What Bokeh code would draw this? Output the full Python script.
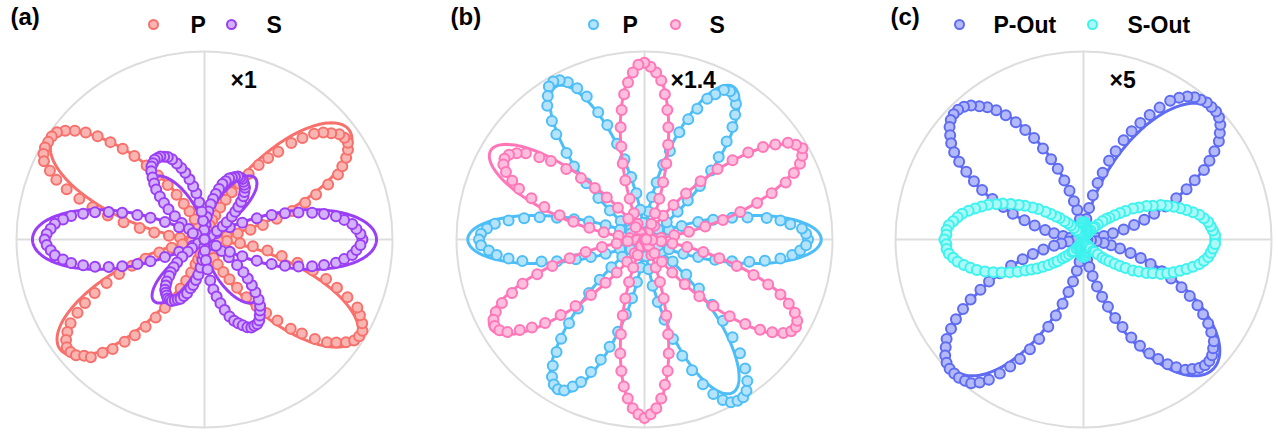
import numpy as np
from bokeh.plotting import figure
from bokeh.models import Range1d
from bokeh.core.properties import value
from bokeh.embed import file_html
from bokeh.resources import INLINE

# Polarization angle of every measured point, degrees
angles = list(range(0, 360, 2))

# Normalized SHG intensity (1 = outer ring) at each angle
a_p = [0.00, 0.01, 0.03, 0.07, 0.12, 0.18, 0.25, 0.32, 0.40, 0.49, 0.57, 0.64, 0.72, 0.79, 0.83,
       0.87, 0.90, 0.92, 0.92, 0.91, 0.88, 0.85, 0.81, 0.75, 0.69, 0.61, 0.55, 0.49, 0.42, 0.35,
       0.29, 0.24, 0.19, 0.14, 0.11, 0.08, 0.05, 0.03, 0.02, 0.01, 0.01, 0.00, 0.00, 0.00, 0.00,
       0.00, 0.00, 0.00, 0.00, 0.00, 0.00, 0.00, 0.01, 0.01, 0.02, 0.04, 0.06, 0.08, 0.12, 0.17,
       0.22, 0.28, 0.35, 0.42, 0.50, 0.58, 0.65, 0.72, 0.79, 0.85, 0.90, 0.94, 0.97, 0.98, 0.98,
       0.98, 0.97, 0.95, 0.90, 0.85, 0.78, 0.70, 0.62, 0.53, 0.44, 0.35, 0.27, 0.19, 0.13, 0.07,
       0.03, 0.01, 0.00, 0.01, 0.03, 0.07, 0.12, 0.18, 0.25, 0.33, 0.41, 0.49, 0.57, 0.65, 0.72,
       0.78, 0.84, 0.88, 0.91, 0.93, 0.93, 0.92, 0.89, 0.87, 0.81, 0.76, 0.69, 0.63, 0.56, 0.49,
       0.42, 0.36, 0.29, 0.24, 0.19, 0.14, 0.11, 0.08, 0.05, 0.03, 0.02, 0.01, 0.01, 0.00, 0.00,
       0.00, 0.00, 0.00, 0.00, 0.00, 0.00, 0.00, 0.01, 0.01, 0.02, 0.04, 0.06, 0.08, 0.11, 0.15,
       0.20, 0.25, 0.31, 0.38, 0.45, 0.51, 0.58, 0.66, 0.72, 0.79, 0.85, 0.89, 0.93, 0.96, 0.97,
       0.97, 0.95, 0.92, 0.89, 0.82, 0.75, 0.68, 0.60, 0.51, 0.42, 0.34, 0.26, 0.19, 0.12, 0.07]
a_s = [0.84, 0.83, 0.81, 0.79, 0.75, 0.71, 0.65, 0.59, 0.52, 0.45, 0.38, 0.30, 0.22, 0.15, 0.07,
       0.00,
       0.04, 0.08, 0.12, 0.15, 0.19, 0.22, 0.25, 0.28, 0.31, 0.33, 0.35, 0.36, 0.37, 0.38, 0.38,
       0.38, 0.37, 0.36, 0.35, 0.33, 0.31, 0.28, 0.25, 0.22, 0.19, 0.15, 0.12, 0.08, 0.04,
       0.00,
       0.05, 0.10, 0.15, 0.20, 0.25, 0.29, 0.33, 0.37, 0.40, 0.43, 0.46, 0.48, 0.49, 0.50, 0.50,
       0.50, 0.49, 0.48, 0.46, 0.43, 0.40, 0.37, 0.33, 0.29, 0.25, 0.20, 0.15, 0.10, 0.05,
       0.00,
       0.07, 0.15, 0.23, 0.31, 0.38, 0.46, 0.53, 0.60, 0.66, 0.72, 0.76, 0.80, 0.82, 0.84, 0.85,
       0.84, 0.82, 0.80, 0.76, 0.72, 0.66, 0.60, 0.53, 0.46, 0.38, 0.31, 0.23, 0.15, 0.07,
       0.00,
       0.04, 0.08, 0.11, 0.15, 0.19, 0.22, 0.25, 0.27, 0.30, 0.32, 0.34, 0.35, 0.36, 0.37, 0.37,
       0.37, 0.36, 0.35, 0.34, 0.32, 0.30, 0.27, 0.25, 0.22, 0.19, 0.15, 0.11, 0.08, 0.04,
       0.00,
       0.06, 0.11, 0.16, 0.22, 0.27, 0.31, 0.35, 0.39, 0.43, 0.46, 0.48, 0.50, 0.52, 0.53, 0.53,
       0.53, 0.52, 0.50, 0.48, 0.46, 0.43, 0.39, 0.35, 0.31, 0.27, 0.22, 0.16, 0.11, 0.06,
       0.00,
       0.07, 0.15, 0.22, 0.30, 0.38, 0.45, 0.52, 0.59, 0.65, 0.71, 0.75, 0.79, 0.81, 0.83]
b_p = [0.87, 0.86, 0.84, 0.78, 0.73, 0.66, 0.56, 0.48, 0.38, 0.30, 0.21, 0.14, 0.08, 0.04, 0.01,
       0.00,
       0.01, 0.04, 0.09, 0.15, 0.23, 0.31, 0.41, 0.51, 0.59, 0.68, 0.76, 0.82, 0.87, 0.90, 0.91,
       0.90, 0.86, 0.82, 0.75, 0.68, 0.60, 0.49, 0.41, 0.31, 0.23, 0.15, 0.09, 0.04, 0.01,
       0.00,
       0.01, 0.04, 0.09, 0.16, 0.25, 0.34, 0.44, 0.53, 0.64, 0.72, 0.82, 0.88, 0.93, 0.96, 0.97,
       0.96, 0.92, 0.88, 0.80, 0.73, 0.62, 0.54, 0.43, 0.33, 0.24, 0.16, 0.09, 0.04, 0.01,
       0.00,
       0.01, 0.04, 0.08, 0.14, 0.22, 0.31, 0.39, 0.48, 0.57, 0.65, 0.73, 0.80, 0.84, 0.87, 0.88,
       0.87, 0.83, 0.79, 0.73, 0.66, 0.56, 0.48, 0.38, 0.30, 0.22, 0.14, 0.08, 0.04, 0.01,
       0.00,
       0.01, 0.04, 0.09, 0.15, 0.23, 0.32, 0.41, 0.51, 0.60, 0.69, 0.76, 0.83, 0.88, 0.91, 0.92,
       0.91, 0.87, 0.83, 0.76, 0.68, 0.60, 0.51, 0.41, 0.32, 0.23, 0.15, 0.09, 0.04, 0.01,
       0.00,
       0.01, 0.04, 0.09, 0.16, 0.25, 0.34, 0.44, 0.55, 0.65, 0.74, 0.83, 0.90, 0.95, 0.98, 0.99,
       0.99, 0.97, 0.93, 0.87, 0.79, 0.70, 0.60, 0.50, 0.39, 0.29, 0.19, 0.11, 0.05, 0.01,
       0.00,
       0.01, 0.04, 0.08, 0.14, 0.22, 0.30, 0.39, 0.48, 0.57, 0.65, 0.73, 0.79, 0.83, 0.86]
b_s = [0.00,
       0.01, 0.04, 0.09, 0.16, 0.24, 0.33, 0.43, 0.53, 0.63, 0.72, 0.81, 0.87, 0.92, 0.95, 0.97,
       0.95, 0.92, 0.86, 0.80, 0.72, 0.63, 0.54, 0.43, 0.33, 0.24, 0.16, 0.09, 0.04, 0.01,
       0.00,
       0.01, 0.04, 0.09, 0.15, 0.23, 0.32, 0.42, 0.52, 0.61, 0.70, 0.78, 0.85, 0.89, 0.92, 0.94,
       0.93, 0.89, 0.84, 0.78, 0.70, 0.61, 0.51, 0.42, 0.33, 0.23, 0.15, 0.09, 0.04, 0.01,
       0.00,
       0.01, 0.04, 0.08, 0.14, 0.22, 0.30, 0.38, 0.47, 0.56, 0.65, 0.71, 0.78, 0.82, 0.85, 0.86,
       0.85, 0.82, 0.77, 0.72, 0.64, 0.56, 0.47, 0.39, 0.30, 0.22, 0.14, 0.08, 0.04, 0.01,
       0.00,
       0.01, 0.04, 0.09, 0.15, 0.23, 0.32, 0.41, 0.51, 0.60, 0.69, 0.76, 0.83, 0.88, 0.91, 0.92,
       0.91, 0.88, 0.82, 0.76, 0.69, 0.60, 0.51, 0.41, 0.31, 0.23, 0.15, 0.09, 0.04, 0.01,
       0.00,
       0.01, 0.04, 0.09, 0.16, 0.24, 0.33, 0.42, 0.52, 0.62, 0.71, 0.79, 0.85, 0.90, 0.93, 0.95,
       0.93, 0.90, 0.85, 0.78, 0.71, 0.62, 0.52, 0.42, 0.33, 0.24, 0.16, 0.09, 0.04, 0.01,
       0.00,
       0.01, 0.04, 0.09, 0.15, 0.23, 0.32, 0.42, 0.51, 0.61, 0.70, 0.78, 0.84, 0.89, 0.92, 0.93,
       0.92, 0.89, 0.84, 0.78, 0.70, 0.61, 0.51, 0.41, 0.32, 0.23, 0.15, 0.09, 0.04, 0.01]
c_p = [0.00,
       0.01, 0.02, 0.04, 0.07, 0.11, 0.16, 0.22, 0.28, 0.34, 0.40, 0.47, 0.54, 0.61, 0.67, 0.74,
       0.79, 0.84, 0.89, 0.92, 0.95, 0.97, 0.98,
       0.98, 0.98, 0.97, 0.96, 0.94, 0.91, 0.87, 0.81, 0.75, 0.69, 0.63, 0.57, 0.50, 0.44, 0.37,
       0.31, 0.24, 0.17, 0.11, 0.06, 0.03, 0.01,
       0.00,
       0.01, 0.02, 0.04, 0.07, 0.11, 0.16, 0.21, 0.27, 0.33, 0.40, 0.46, 0.53, 0.60, 0.66, 0.72,
       0.78, 0.83, 0.87, 0.90, 0.93, 0.95, 0.96,
       0.96, 0.95, 0.93, 0.90, 0.87, 0.83, 0.78, 0.72, 0.66, 0.60, 0.53, 0.46, 0.40, 0.33, 0.27,
       0.21, 0.16, 0.11, 0.07, 0.04, 0.02, 0.01,
       0.00,
       0.01, 0.02, 0.04, 0.08, 0.12, 0.16, 0.22, 0.28, 0.34, 0.41, 0.48, 0.55, 0.61, 0.68, 0.74,
       0.80, 0.85, 0.90, 0.93, 0.96, 0.98, 0.99,
       0.99, 0.99, 0.98, 0.97, 0.94, 0.90, 0.84, 0.78, 0.72, 0.65, 0.58, 0.50, 0.43, 0.36, 0.29,
       0.23, 0.17, 0.12, 0.08, 0.04, 0.02, 0.01,
       0.00,
       0.01, 0.02, 0.04, 0.07, 0.11, 0.15, 0.20, 0.26, 0.32, 0.38, 0.45, 0.51, 0.58, 0.64, 0.70,
       0.75, 0.80, 0.84, 0.88, 0.90, 0.92, 0.93,
       0.93, 0.92, 0.90, 0.88, 0.84, 0.80, 0.75, 0.70, 0.64, 0.58, 0.51, 0.45, 0.38, 0.32, 0.26,
       0.20, 0.15, 0.11, 0.07, 0.04, 0.02, 0.01]
c_s = [0.70, 0.70, 0.69, 0.68, 0.67, 0.65, 0.63, 0.60, 0.57, 0.54, 0.51, 0.48, 0.45, 0.41, 0.38,
       0.34, 0.31, 0.27, 0.24, 0.21, 0.18, 0.16, 0.14, 0.11, 0.09, 0.08, 0.06, 0.05, 0.04, 0.04,
       0.03, 0.03, 0.03, 0.03, 0.03, 0.04, 0.04, 0.05, 0.06, 0.06, 0.07, 0.08, 0.08, 0.09, 0.09,
       0.09,
       0.09, 0.09, 0.08, 0.08, 0.07, 0.06, 0.06, 0.05, 0.04, 0.04, 0.03, 0.03, 0.03, 0.03, 0.03,
       0.04, 0.04, 0.05, 0.06, 0.08, 0.10, 0.12, 0.14, 0.17, 0.19, 0.22, 0.25, 0.29, 0.32, 0.36,
       0.39, 0.43, 0.47, 0.50, 0.54, 0.57, 0.60, 0.63, 0.66, 0.68, 0.70, 0.72, 0.73, 0.73,
       0.74, 0.73, 0.73, 0.72, 0.70, 0.68, 0.65, 0.62, 0.59, 0.55, 0.51, 0.47, 0.43, 0.39, 0.35,
       0.32, 0.29, 0.26, 0.23, 0.20, 0.18, 0.15, 0.13, 0.11, 0.09, 0.08, 0.06, 0.05, 0.04, 0.04,
       0.03, 0.03, 0.03, 0.03, 0.03, 0.04, 0.04, 0.05, 0.06, 0.06, 0.07, 0.08, 0.08, 0.09, 0.09,
       0.09,
       0.09, 0.09, 0.08, 0.08, 0.07, 0.06, 0.06, 0.05, 0.04, 0.04, 0.03, 0.03, 0.03, 0.03, 0.03,
       0.04, 0.04, 0.05, 0.06, 0.08, 0.09, 0.11, 0.14, 0.16, 0.18, 0.21, 0.24, 0.27, 0.31, 0.34,
       0.38, 0.41, 0.45, 0.48, 0.51, 0.54, 0.57, 0.60, 0.63, 0.65, 0.67, 0.68, 0.69, 0.70]

# Fitted model parameters
fit_a_p = [0.965, 2.0]      # amplitude, rotation (deg) of  A*6.75*sin^2*cos^4
fit_a_s = [0.188, 0.727]    # |cos 3t| * (a + b cos^2 t)
fit_b_p = [0.94]            # R cos^2 3t
fit_b_s = [0.945]           # R sin^2 3t
fit_c_p = [0.975]           # R sin^2 2t
fit_c_s = [0.72, 0.09]      # a |cos t|^5 + b |sin t|^16

panel_tags = ["(a)", "(b)", "(c)"]
scale_labels = ["\u00d71", "\u00d71.4", "\u00d75"]
legend_names = [["P", "S"], ["P", "S"], ["P-Out", "S-Out"]]


def model_a_p(t):
    amp, rot = fit_a_p
    u = np.radians(t - rot)
    return amp * 6.75 * np.sin(u) ** 2 * np.cos(u) ** 4


def model_a_s(t):
    a, b = fit_a_s
    u = np.radians(t)
    return np.abs(np.cos(3 * u)) * (a + b * np.cos(u) ** 2)


def model_b_p(t):
    return fit_b_p[0] * np.cos(3 * np.radians(t)) ** 2


def model_b_s(t):
    return fit_b_s[0] * np.sin(3 * np.radians(t)) ** 2


def model_c_p(t):
    return fit_c_p[0] * np.sin(2 * np.radians(t)) ** 2


def model_c_s(t):
    a, b = fit_c_s
    u = np.radians(t)
    return a * np.abs(np.cos(u)) ** 5 + b * np.abs(np.sin(u)) ** 16


# Page layout (pixel units, y upward)
W, H = 1278, 434
RING = 188
centers = [(204, 195), (644, 195), (1083, 195)]
GRID = "#DDDDDD"
FONT = value("Liberation Sans")

series = [
    [(a_p, model_a_p, "#F8706B", "#F9B5B1"), (a_s, model_a_s, "#9B3FF6", "#D3B2FB")],
    [(b_p, model_b_p, "#4DBEF7", "#B5E3FB"), (b_s, model_b_s, "#FF77B9", "#FFBEDD")],
    [(c_p, model_c_p, "#5E6BF2", "#B4BAF9"), (c_s, model_c_s, "#3EF2EE", "#AAF9F7")],
]
tag_x = [10, 450, 890]
legend_marker_x = [[153, 231], [593, 675], [959, 1092]]
legend_text_x = [[190, 266], [622, 709], [993, 1127]]

p = figure(width=W, height=H, x_range=Range1d(0, W), y_range=Range1d(0, H),
           output_backend="svg", toolbar_location=None, min_border=0,
           x_axis_location=None, y_axis_location=None)
p.grid.visible = False
p.outline_line_color = None
p.background_fill_color = "white"
p.border_fill_color = "white"

theta = np.array(angles, dtype=float)
fine = np.arange(0.0, 360.5, 0.5)


def to_xy(t_deg, r, cx, cy):
    t = np.radians(t_deg)
    r = np.asarray(r, dtype=float)
    return cx + RING * r * np.cos(t), cy + RING * r * np.sin(t)


for i, (cx, cy) in enumerate(centers):
    # polar frame: outer ring and cross hairs
    p.circle(x=[cx], y=[cy], radius=RING, fill_color=None, line_color=GRID, line_width=2)
    p.segment(x0=[cx - RING, cx], y0=[cy, cy - RING], x1=[cx + RING, cx], y1=[cy, cy + RING],
              line_color=GRID, line_width=2)

    for data, model, col, fill in series[i]:
        fx, fy = to_xy(fine, model(fine), cx, cy)
        p.line(fx, fy, line_color=col, line_width=3)
        dx, dy = to_xy(theta, data, cx, cy)
        p.scatter(dx, dy, marker="circle", size=10, fill_color=fill, line_color=col, line_width=2)

    # legend
    for j, (data, model, col, fill) in enumerate(series[i]):
        p.scatter([legend_marker_x[i][j]], [H - 24], marker="circle", size=9,
                  fill_color=fill, line_color=col, line_width=2)
    p.text(x=legend_text_x[i], y=[H - 24, H - 24], text=legend_names[i],
           text_font=FONT, text_font_style="bold", text_font_size="23px",
           text_baseline="middle", text_align="left", text_color="black")

    p.text(x=[tag_x[i]], y=[H - 2], text=[panel_tags[i]], text_font=FONT,
           text_font_style="bold", text_font_size="24px", text_baseline="top",
           text_align="left", text_color="black")
    p.text(x=[cx + 26], y=[H - 79], text=[scale_labels[i]], text_font=FONT,
           text_font_style="bold", text_font_size="23px", text_baseline="middle",
           text_align="left", text_color="black")

open("out.html", "w").write(file_html(p, INLINE))
